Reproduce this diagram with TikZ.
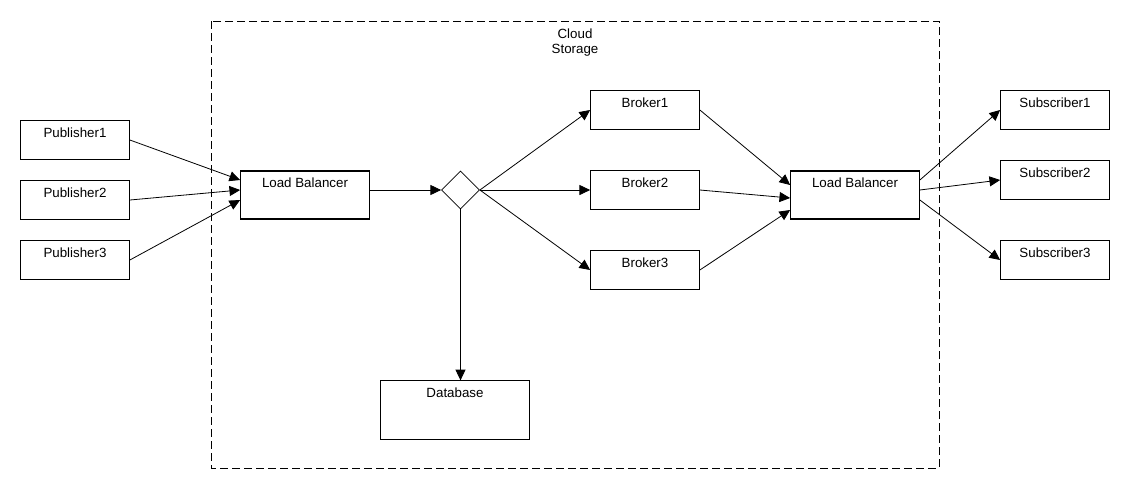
\documentclass[tikz,border=0pt]{standalone}
\usepackage{fontspec}
\setmainfont{Liberation Sans}
\usetikzlibrary{arrows.meta,shapes.geometric,calc}
\begin{document}
\begin{tikzpicture}[x=0.75pt,y=-0.75pt,
  font=\fontsize{10pt}{11.25pt}\selectfont,
  box/.style={draw, line width=0.8pt, inner sep=0pt, minimum width=81.5pt, minimum height=28.7pt, text height=12.4pt, text depth=16.3pt},
  lbbox/.style={box, minimum width=96.5pt, minimum height=36pt, text depth=23.6pt},
  dbbox/.style={box, minimum width=111.5pt, minimum height=43.7pt, text depth=31.3pt},
  dia/.style={draw, diamond, line width=0.6pt, inner sep=0pt, minimum width=28.5pt, minimum height=28.5pt},
  arr/.style={line width=0.6pt, -{Triangle[length=8pt,width=7.5pt]}},
  region/.style={draw, line width=0.6pt, dash pattern=on 6pt off 3pt}]
\useasboundingbox (0,0) rectangle (1130,490);
\draw[region] (211,21) rectangle (939,468);
\node[align=center, anchor=north, inner sep=0pt] (cloud) at (575,28.6) {Cloud\\Storage};
\node[box] (p1) at (75,140) {Publisher1};
\node[box] (p2) at (75,200) {Publisher2};
\node[box] (p3) at (75,260) {Publisher3};
\node[lbbox] (lb1) at (305,195) {Load Balancer};
\node[dia] (d) at (460.5,190) {};
\node[box] (b1) at (645,110) {Broker1};
\node[box] (b2) at (645,190) {Broker2};
\node[box] (b3) at (645,270) {Broker3};
\node[lbbox] (lb2) at (855,195) {Load Balancer};
\node[box] (s1) at (1055,110) {Subscriber1};
\node[box] (s2) at (1055,180) {Subscriber2};
\node[box] (s3) at (1055,260) {Subscriber3};
\node[dbbox] (db) at (455,410) {Database};
\draw[arr] (p1.east) -- ($(lb1.west)+(0,-15)$);
\draw[arr] (p2.east) -- ($(lb1.west)+(0,-5)$);
\draw[arr] (p3.east) -- ($(lb1.west)+(0,5)$);
\draw[arr] ($(lb1.east)+(0,-5)$) -- (d.west);
\draw[arr] (d.east) -- (b1.west);
\draw[arr] (d.east) -- (b2.west);
\draw[arr] (d.east) -- (b3.west);
\draw[arr] (d.south) -- (d.south |- db.north);
\draw[arr] (b1.east) -- ($(lb2.west)+(0,-10)$);
\draw[arr] (b2.east) -- ($(lb2.west)+(0,3)$);
\draw[arr] (b3.east) -- ($(lb2.west)+(0,15)$);
\draw[arr] ($(lb2.east)+(0,-15)$) -- (s1.west);
\draw[arr] ($(lb2.east)+(0,-5)$) -- (s2.west);
\draw[arr] ($(lb2.east)+(0,5)$) -- (s3.west);
\end{tikzpicture}
\end{document}
